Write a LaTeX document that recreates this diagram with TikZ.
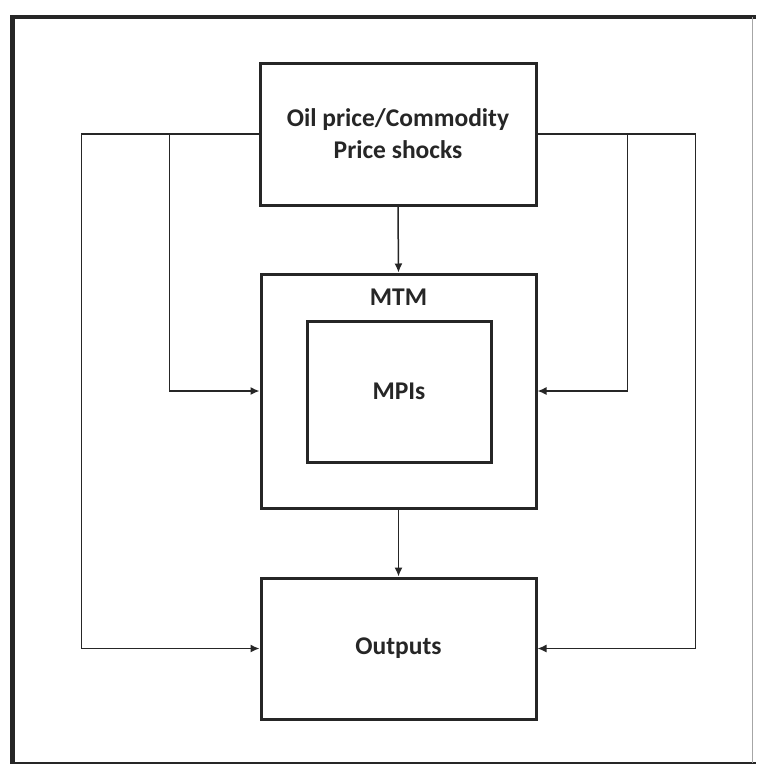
\documentclass[tikz,border=0pt]{standalone}
\usepackage{fontspec}
\setmainfont{Carlito}
\usetikzlibrary{arrows.meta}
\definecolor{ink}{HTML}{262626}
\tikzset{
  box/.style={draw=ink, line width=3pt, inner sep=0pt, align=center, font=\bfseries\fontsize{25.5}{32}\selectfont, text=ink},
  lbl/.style={inner sep=0pt, font=\bfseries\fontsize{25.5}{32}\selectfont, text=ink},
  conn/.style={draw=ink, line width=1.5pt, -{Latex[length=9pt,width=8pt]}}
}
\begin{document}
\begin{tikzpicture}[x=1pt,y=-1pt]
\useasboundingbox (0,0) rectangle (756,764);
\fill[white] (0,0) rectangle (756,764);
% outer frame
\draw[ink, line width=5pt] (12,15) -- (12,764);
\draw[ink, line width=4pt] (10,17) -- (756,17);
\draw[ink, line width=3pt] (10,763) -- (756,763);
\draw[gray!70, line width=1pt] (752,17) -- (752,763);
% boxes
\node[box, minimum width=276pt, minimum height=142pt] (top) at (398,134) {Oil price/Commodity\\Price shocks};
\node[box, minimum width=275pt, minimum height=234pt] (mtm) at (398.5,391) {};
\node[lbl] (mtmlabel) at (398.5,297) {MTM};
\node[box, minimum width=184pt, minimum height=141pt] (mpi) at (399,391.5) {MPIs};
\node[box, minimum width=275pt, minimum height=141pt] (out) at (398.5,648.5) {Outputs};
% connectors
\draw[conn] (top.south) -- (mtm.north);
\draw[conn] (mtm.south) -- (out.north);
\draw[conn] (top.west) -- ++(-89,0) |- (mtm.west);
\draw[conn] (top.west) -- ++(-177,0) |- (out.west);
\draw[conn] (top.east) -- ++(90,0) |- (mtm.east);
\draw[conn] (top.east) -- ++(158,0) |- (out.east);
\end{tikzpicture}
\end{document}
